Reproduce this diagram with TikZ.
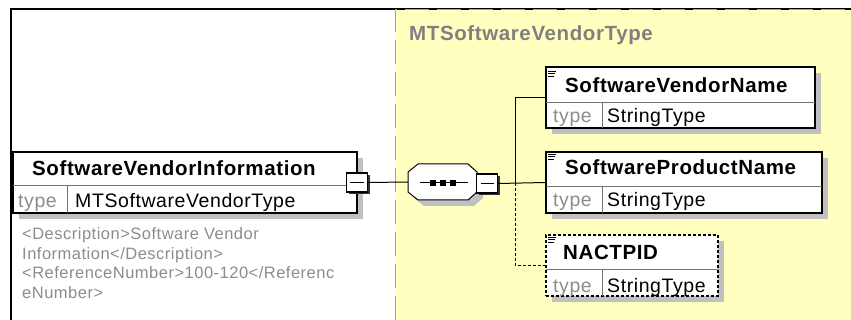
\documentclass[tikz,border=0pt]{standalone}
\usepackage{fontspec}
\setmainfont{Liberation Sans}[LetterSpace=3]
\usetikzlibrary{shadows}
\definecolor{bgyellow}{RGB}{255,255,192}
\definecolor{shadowgray}{RGB}{192,192,192}
\definecolor{txtgray}{RGB}{140,140,140}
\definecolor{dashgray}{RGB}{160,160,160}
\begin{document}
\begin{tikzpicture}[x=1pt,y=-1pt,
  elbox/.style={draw=black, line width=1.3pt, fill=white, rectangle, inner sep=0pt,
    drop shadow={shadow xshift=6pt, shadow yshift=-6pt, fill=shadowgray, opacity=1}},
  minusbox/.style={draw=black, line width=1.3pt, fill=white, rectangle, inner sep=0pt,
    minimum width=21pt, minimum height=19pt,
    drop shadow={shadow xshift=2pt, shadow yshift=-2pt, fill=black!80, opacity=1}},
  seqframe/.style={rectangle, inner sep=0pt, minimum width=69pt, minimum height=36pt},
  divider/.style={draw=black!55, line width=0.8pt},
  conn/.style={draw=black, line width=1pt},
  hdr/.style={anchor=base west, inner sep=0pt, font=\fontsize{20.5}{24}\selectfont\bfseries},
  typelbl/.style={anchor=base west, inner sep=0pt, text=txtgray, font=\fontsize{19.5}{23}\selectfont},
  typeval/.style={anchor=base west, inner sep=0pt, font=\fontsize{19.5}{23}\selectfont},
  desc/.style={anchor=base west, inner sep=0pt, text=txtgray, font=\fontsize{16.5}{19.5}\selectfont},
  title/.style={anchor=base west, inner sep=0pt, text=black!50, font=\fontsize{20.5}{24}\selectfont\bfseries}
]
\useasboundingbox (0,0) rectangle (851,320);
% background panel
\fill[bgyellow] (395,10) rectangle (851,320);
\draw[black, line width=2pt] (11,320) -- (11,9) -- (851,9);
\draw[dashgray, line width=1pt, dash pattern=on 24pt off 8pt] (395,320) -- (395,10) -- (851,10);
\node[title] (ttl) at (409,41) {MTSoftwareVendorType};

% main element
\node[elbox, minimum width=344pt, minimum height=61pt] (svi) at (185,182.5) {};
\draw[divider] (13,185) -- (357,185);
\draw[divider] (67,185) -- (67,213);
\node[hdr] (sviname) at (32,176) {SoftwareVendorInformation};
\node[typelbl] (svitype) at (18,208) {type};
\node[typeval] (svival) at (75,208) {MTSoftwareVendorType};
\node[minusbox] (svim) at (357,182.5) {};
\draw[line width=1.2pt] (350,182.5) -- (364,182.5);

% description
\node[desc] (d1) at (22,240) {<Description>Software Vendor};
\node[desc] (d2) at (22,259.5) {Information</Description>};
\node[desc] (d3) at (22,279) {<ReferenceNumber>100-120</Referenc};
\node[desc] (d4) at (22,298.5) {eNumber>};

% sequence compositor
\node[seqframe] (seq) at (442.5,182) {};
\fill[shadowgray] (414,178) -- (424,170) -- (474,170) -- (483,178) -- (483,198) -- (474,206) -- (424,206) -- (414,198) -- cycle;
\draw[line width=1pt, fill=white] (408,172) -- (418,164) -- (468,164) -- (477,172) -- (477,192) -- (468,200) -- (418,200) -- (408,192) -- cycle;
\draw[line width=1pt] (420,183) -- (468,183);
\fill (430,180.5) rectangle (436,186);
\fill (440,180.5) rectangle (446,186);
\fill (450,180.5) rectangle (456,186);
\node[minusbox] (seqm) at (487,183.5) {};
\draw[line width=1.2pt] (480.5,183.5) -- (493.5,183.5);

% child elements
\node[elbox, minimum width=269pt, minimum height=61pt] (b1) at (680.5,97.5) {};
\draw[divider] (546,102) -- (815,102);
\draw[divider] (602,102) -- (602,128);
\node[hdr] (b1name) at (565,93) {SoftwareVendorName};
\node[typelbl] (b1type) at (553,123) {type};
\node[typeval] (b1val) at (607,123) {StringType};

\node[elbox, minimum width=276pt, minimum height=61pt] (b2) at (684,182.5) {};
\draw[divider] (546,186) -- (822,186);
\draw[divider] (602,186) -- (602,213);
\node[hdr] (b2name) at (565,175) {SoftwareProductName};
\node[typelbl] (b2type) at (553,207) {type};
\node[typeval] (b2val) at (607,207) {StringType};

\node[elbox, dash pattern=on 3pt off 2pt, minimum width=172pt, minimum height=61pt] (b3) at (632,265.5) {};
\draw[divider] (546,269) -- (718,269);
\draw[divider] (602,269) -- (602,296);
\node[hdr] (b3name) at (563,260) {NACTPID};
\node[typelbl] (b3type) at (553,292) {type};
\node[typeval] (b3val) at (607,292) {StringType};

% element icons
\foreach \yy in {69,152,235}{
  \draw[line width=0.8pt] (548,\yy+2) -- (556,\yy+2);
  \draw[line width=0.8pt] (548,\yy+4.5) -- (555,\yy+4.5);
  \draw[line width=0.8pt] (548,\yy+7) -- (554,\yy+7);
}

% connectors
\coordinate (tr) at (515,183);
\draw[conn] (svim.east) -- (seq.west);
\draw[conn] (seqm.east) -- (b2.west);
\draw[conn] (tr) |- (b1.west);
\draw[conn, dash pattern=on 3pt off 2pt] (tr) |- (b3.west);
\end{tikzpicture}
\end{document}
